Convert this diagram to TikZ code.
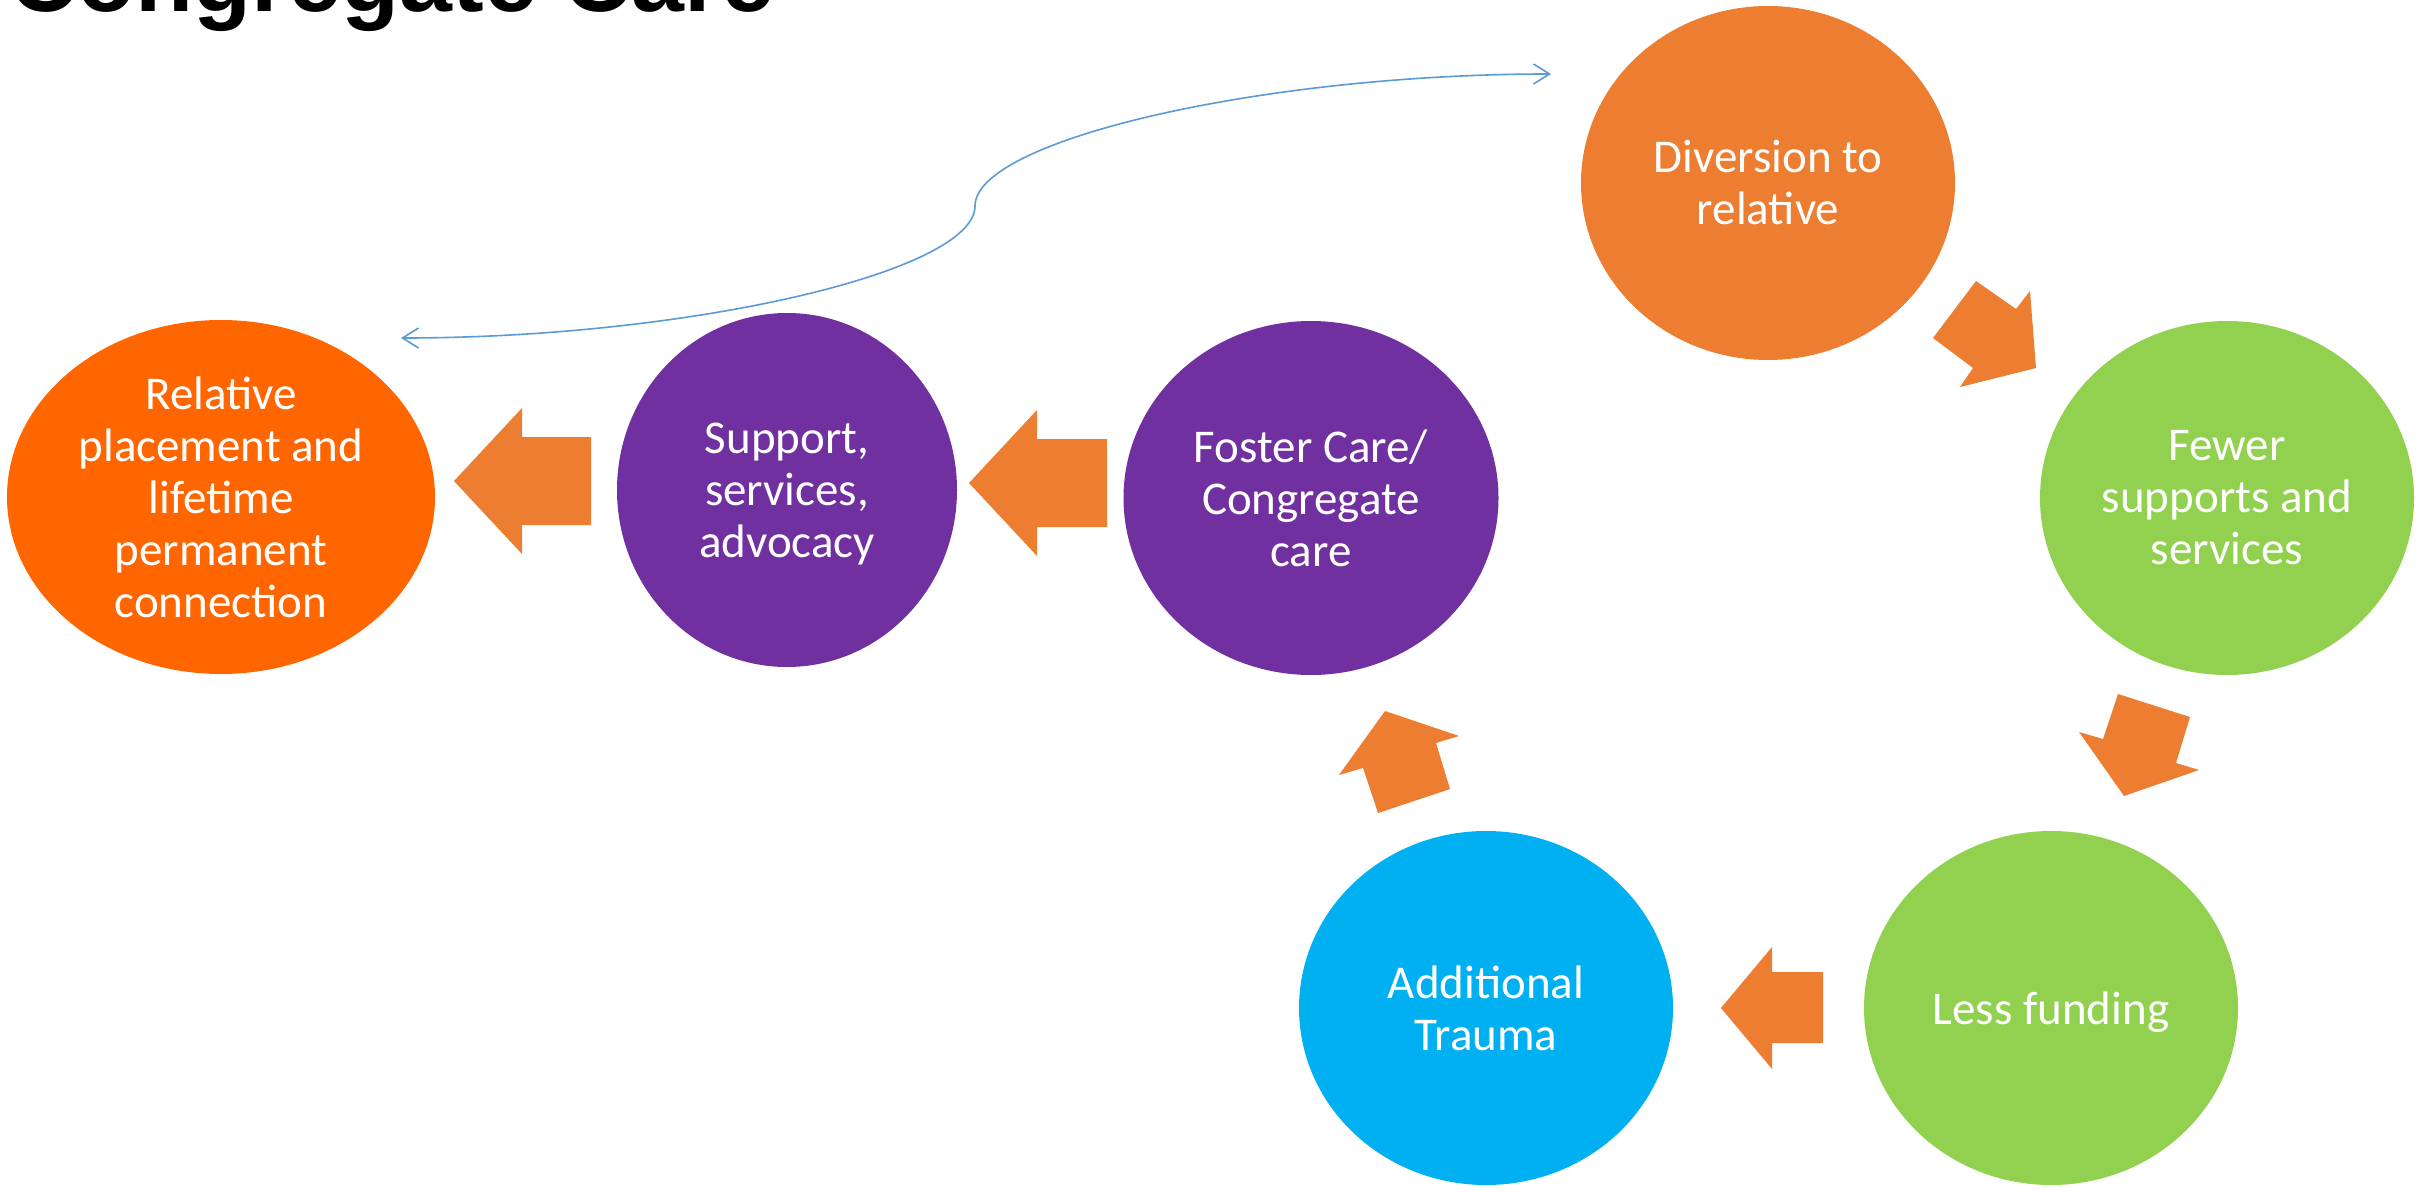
\documentclass[tikz,border=0pt]{standalone}
\usepackage{fontspec}
\setmainfont{Carlito}
\newfontfamily\titlefont{Liberation Sans}
\usetikzlibrary{shapes.geometric,arrows.meta}
\definecolor{relorange}{HTML}{FF6600}
\definecolor{divorange}{HTML}{ED7D31}
\definecolor{arroworange}{HTML}{ED7D31}
\definecolor{purp}{HTML}{7030A0}
\definecolor{grn}{HTML}{92D050}
\definecolor{cyn}{HTML}{00B0F0}
\definecolor{curveblue}{HTML}{5B9BD5}
\begin{document}
\begin{tikzpicture}[x=1pt,y=-1pt,
  bubble/.style={ellipse, inner sep=0pt, text=white, align=center,
    minimum width=374pt, minimum height=354pt,
    font=\fontsize{47}{52}\selectfont},
  blockarrow/.style={fill=arroworange},
  link/.style={draw=curveblue, line width=1.6pt,
    {Straight Barb[length=16pt,width=20pt]}-{Straight Barb[length=16pt,width=20pt]}}]
\useasboundingbox (0,0) rectangle (2420,1190);
\fill[white] (0,0) rectangle (2420,1190);

% title (cut off at the top)
\node[anchor=base west, inner sep=0pt,
  font=\titlefont\bfseries\fontsize{95}{100}\selectfont] (title) at (9,12) {Congregate Care};

% bubbles
\node[bubble, fill=relorange, minimum width=428pt] (rel) at (221,497)
  {Relative\\placement and\\lifetime\\permanent\\connection};
\node[bubble, fill=purp, minimum width=340pt, text depth=0pt] (sup) at (787,490)
  {Support,\\services,\\advocacy};
\node[bubble, fill=purp, minimum width=375pt] (fos) at (1311,498)
  {Foster Care/\\Congregate\\care};
\node[bubble, fill=divorange] (div) at (1768,183)
  {Diversion to\\relative};
\node[bubble, fill=grn] (few) at (2227,498)
  {Fewer\\supports and\\services};
\node[bubble, fill=grn, text depth=0pt] (less) at (2051,1008)
  {Less funding};
\node[bubble, fill=cyn] (trau) at (1486,1008)
  {Additional\\Trauma};

% block arrows
% support -> relative
\fill[blockarrow] (454,481) -- (522,408) -- (522,437) -- (591,437) -- (591,525)
  -- (522,525) -- (522,554) -- cycle;
% foster -> support
\fill[blockarrow] (969,483) -- (1037,410) -- (1037,439) -- (1107,439) -- (1107,527)
  -- (1037,527) -- (1037,556) -- cycle;
% less funding -> trauma
\fill[blockarrow] (1721,1008) -- (1772,947) -- (1772,972) -- (1823,972) -- (1823,1043)
  -- (1772,1043) -- (1772,1069) -- cycle;
% diversion -> fewer
\fill[blockarrow] (2036,368) -- (1960,387) -- (1973,368) -- (1933,338) -- (1976,281)
  -- (2016,309) -- (2030,291) -- cycle;
% fewer -> less funding
\fill[blockarrow] (2124,796) -- (2079,732) -- (2103,739) -- (2118,694) -- (2190,717)
  -- (2176,763) -- (2199,770) -- cycle;
% trauma -> foster
\fill[blockarrow] (1385,711) -- (1459,736) -- (1436,743) -- (1450,789) -- (1378,813)
  -- (1363,768) -- (1339,775) -- cycle;

% curved connector
\coordinate (cs) at (401,338);
\coordinate (ce) at (1551,74);
\draw[link] (cs) .. controls (688,338) and (975,272) .. (975,206)
  .. controls (975,140) and (1263,74) .. (ce);
\end{tikzpicture}
\end{document}
